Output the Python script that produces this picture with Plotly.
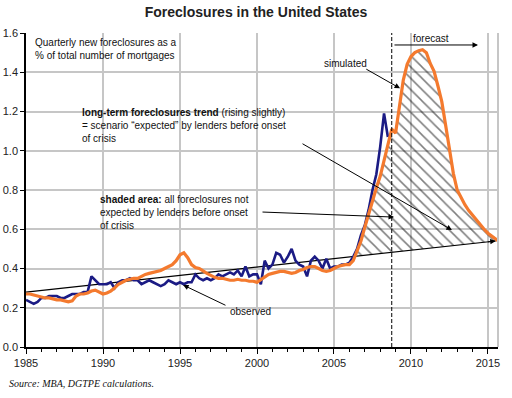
import numpy as np
import plotly.graph_objects as go

# ---------------- data ----------------
obs_years = np.arange(1985.0, 2008.5 + 0.001, 0.25)
observed = [
    0.24, 0.23, 0.22, 0.23,
    0.25, 0.25, 0.26, 0.26,
    0.26, 0.25, 0.25, 0.26,
    0.27, 0.27, 0.27, 0.28,
    0.28, 0.36, 0.34, 0.32,
    0.32, 0.32, 0.33, 0.30,
    0.33, 0.34, 0.34, 0.35,
    0.34, 0.34, 0.32, 0.33,
    0.34, 0.33, 0.32, 0.31,
    0.32, 0.34, 0.33, 0.32,
    0.33, 0.32, 0.33, 0.33,
    0.37, 0.35, 0.34, 0.35,
    0.34, 0.35, 0.37, 0.36,
    0.37, 0.38, 0.37, 0.39,
    0.36, 0.41, 0.36, 0.37,
    0.37, 0.32, 0.44, 0.40,
    0.42, 0.48, 0.47, 0.43,
    0.46, 0.50, 0.44, 0.42,
    0.41, 0.36, 0.44, 0.46,
    0.44, 0.40, 0.45, 0.40,
    0.41, 0.41, 0.42, 0.42,
    0.43, 0.46, 0.50, 0.57,
    0.62, 0.70, 0.80, 0.88,
    1.02, 1.19, 1.07,
]

sim_years = np.arange(1985.0, 2015.75 + 0.001, 0.25)
simulated = [
    0.27, 0.27, 0.265, 0.26,
    0.255, 0.25, 0.25, 0.245,
    0.24, 0.24, 0.235, 0.23,
    0.235, 0.26, 0.27, 0.27,
    0.275, 0.285, 0.29, 0.28,
    0.27, 0.275, 0.285, 0.30,
    0.32, 0.33, 0.34, 0.345,
    0.35, 0.35, 0.36, 0.37,
    0.375, 0.38, 0.385, 0.39,
    0.40, 0.41, 0.42, 0.44,
    0.47, 0.48, 0.455, 0.42,
    0.405, 0.40, 0.385, 0.375,
    0.365, 0.355, 0.35, 0.35,
    0.345, 0.34, 0.34, 0.345,
    0.34, 0.34, 0.335, 0.335,
    0.33, 0.345, 0.36, 0.37,
    0.375, 0.38, 0.385, 0.385,
    0.38, 0.375, 0.38, 0.39,
    0.395, 0.405, 0.41, 0.41,
    0.40, 0.39, 0.385, 0.39,
    0.40, 0.41, 0.415, 0.42,
    0.42, 0.44, 0.49, 0.54,
    0.61, 0.68, 0.74, 0.81,
    0.87, 0.95, 1.03, 1.11,
    1.09, 1.24, 1.36, 1.44,
    1.48, 1.50, 1.51, 1.515,
    1.50, 1.445, 1.405, 1.33,
    1.25, 1.13, 1.00, 0.885,
    0.80, 0.76, 0.725, 0.695,
    0.67, 0.645, 0.62, 0.60,
    0.58, 0.565, 0.55, 0.535,
]

trend_x = [1985.0, 2015.5]
trend_y = [0.28, 0.54]
forecast_start = 2008.75

x_ticks = [1985, 1990, 1995, 2000, 2005, 2010, 2015]
y_ticks = [0.0, 0.2, 0.4, 0.6, 0.8, 1.0, 1.2, 1.4, 1.6]

# ---------------- helpers ----------------
slope = (trend_y[1] - trend_y[0]) / (trend_x[1] - trend_x[0])


def trend_at(x):
    return trend_y[0] + slope * (np.asarray(x) - trend_x[0])


sx = np.asarray(sim_years)
sy = np.asarray(simulated)
diff = sy - trend_at(sx)
mask_idx = np.where((sx > 2006) & (diff > 0))[0]
i0, i1 = mask_idx[0], mask_idx[-1]
t = diff[i0 - 1] / (diff[i0 - 1] - diff[i0])
x_left = sx[i0 - 1] + t * (sx[i0] - sx[i0 - 1])
if i1 + 1 < len(sx):
    t = diff[i1] / (diff[i1] - diff[i1 + 1])
    x_right = sx[i1] + t * (sx[i1 + 1] - sx[i1])
else:
    x_right = sx[i1]
up_x = np.concatenate([[x_left], sx[i0:i1 + 1], [x_right]])
up_y = np.concatenate([[trend_at(x_left)], sy[i0:i1 + 1], [trend_at(x_right)]])
low_x = up_x[::-1]
low_y = trend_at(low_x)
poly_x = np.concatenate([up_x, low_x])
poly_y = np.concatenate([up_y, low_y])

NAVY = "#1b1b84"
ORANGE = "#f47a2e"
GRID = "#c6c6c6"
TXT = "Liberation Sans, Arial"

fig = go.Figure()

fig.add_trace(go.Scatter(
    x=poly_x, y=poly_y, mode="lines", fill="toself",
    line=dict(width=0, color="rgba(0,0,0,0)"),
    fillcolor="rgba(0,0,0,0)",
    fillpattern=dict(shape="\\", fgcolor="black", bgcolor="rgba(0,0,0,0)",
                     size=8, solidity=0.19),
    hoverinfo="skip", showlegend=False))

fig.add_trace(go.Scatter(
    x=trend_x, y=trend_y, mode="lines",
    line=dict(color="black", width=1.2), showlegend=False))

fig.add_trace(go.Scatter(
    x=obs_years, y=observed, mode="lines",
    line=dict(color=NAVY, width=2.6), showlegend=False))

fig.add_trace(go.Scatter(
    x=sim_years, y=simulated, mode="lines",
    line=dict(color=ORANGE, width=3.2), showlegend=False))

fig.add_shape(type="line", xref="x", yref="y", x0=forecast_start, x1=forecast_start,
              y0=0, y1=1.6, line=dict(color="black", width=1, dash="4px,2px"))
fig.add_shape(type="line", xref="paper", yref="paper", x0=1, x1=1, y0=0, y1=1,
              line=dict(color=GRID, width=2))


def arrow(x, y, ax, ay):
    fig.add_annotation(x=x, y=y, ax=ax, ay=ay, xref="x", yref="y", axref="x", ayref="y",
                       text="", showarrow=True, arrowhead=2, arrowsize=1.1,
                       arrowwidth=1, arrowcolor="black", standoff=0, startstandoff=0)


def label(x, y, text, xanchor="left", yanchor="top", size=10):
    fig.add_annotation(x=x, y=y, xref="x", yref="y", text=text, showarrow=False,
                       xanchor=xanchor, yanchor=yanchor, align="left",
                       font=dict(family=TXT, size=size, color="#111"))


arrow(trend_x[1], trend_y[1], trend_x[1] - 0.6, trend_at(trend_x[1] - 0.6))

arrow(2009.29, 1.318, 2007.0, 1.42)      # simulated
arrow(2014.35, 1.539, 2008.83, 1.539)    # forecast
arrow(1995.2, 0.316, 1998.05, 0.209)     # observed
arrow(2012.66, 0.596, 2002.86, 1.04)     # long-term trend
arrow(2008.9, 0.662, 2000.26, 0.688)     # shaded area

label(1985.45, 1.59, "Quarterly new foreclosures as a<br>% of total number of mortgages")
label(2005.75, 1.445, "simulated", xanchor="center", yanchor="middle")
label(2011.3, 1.57, "forecast", xanchor="center", yanchor="middle")
label(1999.55, 0.183, "observed", xanchor="center", yanchor="middle")
label(1988.5, 1.235, "<b>long-term foreclosures trend</b> (rising slightly)<br>"
      "= scenario “expected” by lenders before onset<br>of crisis")
label(1989.7, 0.79, "<b>shaded area:</b> all foreclosures not<br>"
      "expected by lenders before onset<br>of crisis")

fig.add_annotation(x=-19 / 472, y=(347 - 383) / 314, xref="paper", yref="paper",
                   text="<i>Source: MBA, DGTPE calculations.</i>", showarrow=False,
                   xanchor="left", yanchor="middle",
                   font=dict(family="Liberation Serif, Times New Roman, serif", size=10, color="#111"))

fig.update_layout(
    width=512, height=398, autosize=False,
    margin=dict(l=26, r=14, t=33, b=51, autoexpand=False),
    paper_bgcolor="white", plot_bgcolor="white",
    title=dict(text="<b>Foreclosures in the United States</b>", x=0.5, xanchor="center",
               y=1 - 12 / 398, yanchor="middle",
               font=dict(family="Liberation Sans, Arial", size=14, color="#222")),
    showlegend=False,
    xaxis=dict(range=[1985, 2015.65], tickvals=x_ticks, ticktext=[str(v) for v in x_ticks],
               automargin=False,
               showgrid=True, gridcolor=GRID, gridwidth=2, zeroline=False,
               showline=True, linecolor="black", linewidth=1.5,
               ticks="outside", ticklen=5, tickcolor="black", tickwidth=1,
               minor=dict(dtick=1, tick0=1985, ticks="outside", ticklen=3,
                          tickcolor="black", showgrid=False),
               tickfont=dict(family="Liberation Sans, Arial", size=11, color="#222")),
    yaxis=dict(range=[0, 1.6], tickvals=y_ticks, ticktext=[f"{v:.1f}" for v in y_ticks],
               automargin=False,
               showgrid=True, gridcolor=GRID, gridwidth=2, zeroline=False,
               showline=True, linecolor="black", linewidth=1.5,
               ticks="outside", ticklen=4, tickcolor="black", tickwidth=1,
               tickfont=dict(family="Liberation Sans, Arial", size=11, color="#222")),
)

fig.write_html("out.html", config={"displayModeBar": False},
               post_script="document.body.style.margin='0';")
